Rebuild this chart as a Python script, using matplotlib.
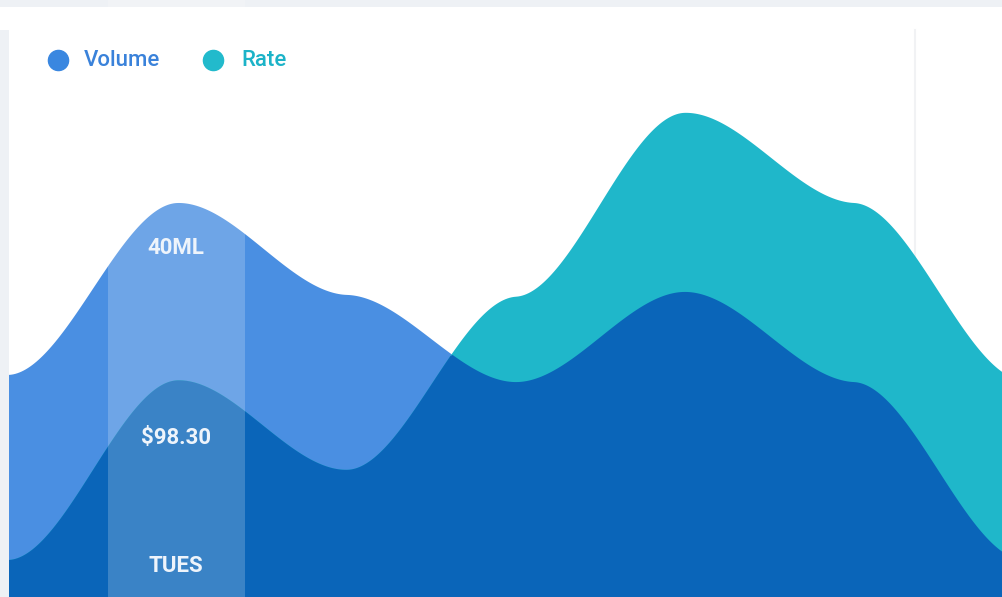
import numpy as np
import matplotlib.pyplot as plt
from matplotlib.patches import Rectangle

# chart data (heights in % of the chart area)
days = ['MON', 'TUES', 'WED', 'THU', 'FRI', 'SAT', 'SUN']
volume = [37.2, 66.0, 50.6, 36.0, 51.1, 36.0, 6.2]
rate = [6.2, 36.3, 21.3, 50.3, 81.1, 66.0, 36.3]
series_names = ['Volume', 'Rate']
hl_day = 'TUES'
hl_volume = '40ML'
hl_rate = '$98.30'

c_vol = '#4a8fe2'
c_rate = '#1fb7ca'
c_both = '#0a65b9'   # multiply blend of the two


def smooth(xs, ys, k=0.06, n=80):
    # cubic hermite, cardinal style tangents scaled down
    xs = np.asarray(xs, float)
    ys = np.asarray(ys, float)
    m = np.zeros_like(ys)
    m[1:-1] = k * (ys[2:] - ys[:-2]) / (xs[2:] - xs[:-2])
    m[0] = k * (ys[1] - ys[0]) / (xs[1] - xs[0])
    m[-1] = k * (ys[-1] - ys[-2]) / (xs[-1] - xs[-2])
    px, py = [], []
    for i in range(len(xs) - 1):
        t = np.linspace(0, 1, n, endpoint=False)
        h = xs[i+1] - xs[i]
        h00 = 2*t**3 - 3*t**2 + 1
        h10 = t**3 - 2*t**2 + t
        h01 = -2*t**3 + 3*t**2
        h11 = t**3 - t**2
        px.append(xs[i] + h*t)
        py.append(h00*ys[i] + h10*h*m[i] + h01*ys[i+1] + h11*h*m[i+1])
    px.append([xs[-1]])
    py.append([ys[-1]])
    return np.concatenate(px), np.concatenate(py)


x = np.arange(len(days))
xg, gv = smooth(x, volume)
_, gr = smooth(x, rate)

fig = plt.figure(figsize=(10.03, 5.97), dpi=100)
fig.patch.set_facecolor('white')
ax = fig.add_axes([0, 0, 1, 1])
ax.set_xlim(-9/169, (1003-9)/169)
ax.set_ylim(0, 100)
ax.axis('off')

# card edges
fig.add_artist(Rectangle((0, 1-7/597), 1, 7/597, transform=fig.transFigure,
                         color='#eef1f5', lw=0, zorder=0))
fig.add_artist(Rectangle((0, 0), 9/1003, 1-30/597, transform=fig.transFigure,
                         color='#eef1f5', lw=0, zorder=0))
ax.plot([915/1003, 915/1003], [0, 1-30/597], transform=ax.transAxes,
        color='#f1f2f4', lw=1.5, zorder=0)

ax.fill_between(xg, 0, gv, color=c_vol, lw=0, zorder=2)
ax.fill_between(xg, 0, gr, color=c_rate, lw=0, zorder=2)
ax.fill_between(xg, 0, np.minimum(gv, gr), color=c_both, lw=0, zorder=3)

# highlighted day
i = days.index(hl_day)
ax.axvspan(i - 0.405 - 0.01, i + 0.405 - 0.01, color='white', alpha=0.2, lw=0, zorder=4)
tf = dict(ha='center', va='center', color='#eef4fb', fontsize=16,
          fontweight='bold', family=['Roboto', 'DejaVu Sans'], zorder=5)
ax.text(i - 0.01, 100*(1-248/597), hl_volume, **tf)
ax.text(i - 0.01, 100*(1-438/597), hl_rate, **tf)
ax.text(i - 0.01, 100*(1-566/597), hl_day, **tf)

# legend
for name, col, cx, tx, tc in [(series_names[0], '#3a87e0', 58, 84, '#3a82da'),
                              (series_names[1], '#22bacc', 213, 241, '#1cb3c8')]:
    ax.plot(cx/1003, 1-60/597, 'o', ms=14.5, color=col, transform=ax.transAxes, zorder=6)
    ax.text(tx/1003, 1-60/597, name, transform=ax.transAxes, ha='left', va='center',
            fontsize=16, fontweight=500, color=tc, family=['Roboto', 'DejaVu Sans'], zorder=6)

fig.savefig('out.png', dpi=100, facecolor=fig.get_facecolor())
